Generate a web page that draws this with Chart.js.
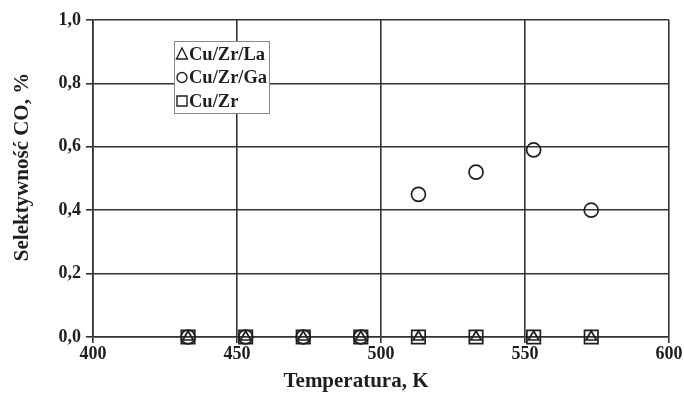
<!DOCTYPE html>
<html>
<head>
<meta charset="utf-8">
<script src="https://cdn.jsdelivr.net/npm/chart.js@4/dist/chart.umd.min.js"></script>
<style>
  html, body { margin: 0; padding: 0; background: #fff; }
  #wrap { width: 684px; height: 394px; position: relative; }
</style>
</head>
<body>
<div id="wrap"><canvas id="c"></canvas></div>
<script>
// temperatures (K) and CO selectivity (%) per catalyst
const temps   = [433, 453, 473, 493, 513, 533, 553, 573];
const cuZrLa  = [0, 0, 0, 0, 0, 0, 0, 0];
const cuZrGa  = [0, 0, 0, 0, 0.45, 0.52, 0.59, 0.40];
const cuZr    = [0, 0, 0, 0, 0, 0, 0, 0];
const seriesNames = ["Cu/Zr/La", "Cu/Zr/Ga", "Cu/Zr"];
const xTicks  = [400, 450, 500, 550, 600];
const yTicks  = [0, 0.2, 0.4, 0.6, 0.8, 1.0];
const xTitle  = "Temperatura, K";
const yTitle  = "Selektywność CO, %";

const FONT = "'Liberation Serif', 'Times New Roman', serif";
const INK = "#1e1e1e";

const pts = arr => arr.map((v, i) => ({ x: temps[i], y: v }));

function ds(label, data, style, r) {
    return {
        label,
        data: pts(data),
        pointStyle: style,
        pointRadius: r,
        pointHoverRadius: r,
        pointBackgroundColor: "rgba(0,0,0,0)",
        pointBorderColor: INK,
        pointBorderWidth: 1.7,
        showLine: false,
        clip: false,
    };
}

// axis titles (placed like the original, a bit off-centre) + boxed legend
const annotations = {
    id: "annotations",
    afterDraw(chart) {
        const c = chart.ctx;
        c.save();
        c.fillStyle = INK;
        c.textAlign = "center";
        c.textBaseline = "middle";
        c.font = "bold 21px " + FONT;
        c.fillText(xTitle, 356, 382);
        c.translate(23, 167);
        c.rotate(-Math.PI / 2);
        c.fillText(yTitle, 0, 0);
        c.restore();

        const x0 = 174, y0 = 41, w = 95, h = 72;
        c.save();
        c.fillStyle = "#fff";
        c.fillRect(x0, y0, w, h);
        c.strokeStyle = "#888";
        c.lineWidth = 1;
        c.strokeRect(x0 + 0.5, y0 + 0.5, w, h);
        c.font = "bold 18.5px " + FONT;
        c.fillStyle = INK;
        c.textBaseline = "middle";
        seriesNames.forEach((name, i) => {
            const d = chart.data.datasets.find(s => s.label === name);
            const cy = y0 + 13 + i * 23.5;
            const mx = x0 + 8;
            c.strokeStyle = INK;
            c.lineWidth = 1.4;
            c.beginPath();
            if (d.pointStyle === "triangle") {
                c.moveTo(mx, cy - 6); c.lineTo(mx + 5.5, cy + 5); c.lineTo(mx - 5.5, cy + 5); c.closePath();
            } else if (d.pointStyle === "circle") {
                c.arc(mx, cy, 5, 0, Math.PI * 2);
            } else {
                c.rect(mx - 5, cy - 5, 10, 10);
            }
            c.stroke();
            c.fillText(name, x0 + 15, cy + 1);
        });
        c.restore();
    }
};

new Chart(document.getElementById("c"), {
    type: "scatter",
    data: {
        datasets: [
            ds(seriesNames[2], cuZr, "rect", 9.5),
            ds(seriesNames[0], cuZrLa, "triangle", 6),
            ds(seriesNames[1], cuZrGa, "circle", 7),
        ],
    },
    options: {
        responsive: true,
        maintainAspectRatio: false,
        animation: false,
        layout: { padding: { top: 20, right: 15, left: 0, bottom: 0 } },
        plugins: { legend: { display: false }, tooltip: { enabled: false } },
        scales: {
            x: {
                type: "linear",
                min: 400, max: 600,
                afterBuildTicks: s => { s.ticks = xTicks.map(v => ({ value: v })); },
                afterFit: s => { s.height = 57; },
                grid: { color: "#333", lineWidth: 1.6, tickLength: 6, drawTicks: true },
                border: { color: "#333", width: 1.6 },
                ticks: { color: INK, font: { family: FONT, size: 18, weight: "bold" }, padding: 1 },
                title: { display: false },
            },
            y: {
                min: 0, max: 1,
                afterBuildTicks: s => { s.ticks = yTicks.map(v => ({ value: v })); },
                afterFit: s => { s.width = 93; },
                grid: { color: "#333", lineWidth: 1.6, tickLength: 7 },
                border: { color: "#333", width: 1.6 },
                ticks: { color: INK, font: { family: FONT, size: 18, weight: "bold" }, padding: 5,
                         callback: v => v.toFixed(1).replace(".", ",") },
                title: { display: false },
            },
        },
    },
    plugins: [annotations],
});
</script>
</body>
</html>
